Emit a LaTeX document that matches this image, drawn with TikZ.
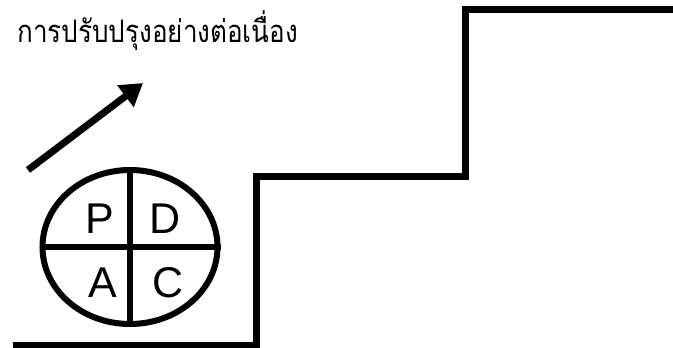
\documentclass[tikz,border=0pt]{standalone}
\usepackage{fontspec}
\setmainfont{Liberation Sans}
\newfontfamily\thaifont[Script=Thai]{Loma}
\usetikzlibrary{shapes.geometric,arrows.meta,positioning}

\begin{document}
\begin{tikzpicture}[x=1pt, y=-1pt, line width=6pt]
            \useasboundingbox (0,0) rectangle (673,348);
            % Title
            \node[anchor=base west, inner sep=0pt, font=\thaifont\fontsize{31}{34}\selectfont, xscale=0.84, transform shape] (title) at (15,42) {การปรับปรุงอย่างต่อเนื่อง};

            % Staircase
            \draw[line width=7pt, line join=miter] (13,345) -- (256,345) -- (256,176) -- (465,176) -- (465,9) -- (673,9);

            % PDCA wheel
            \node[draw, ellipse, minimum width=175pt, minimum height=154pt, inner sep=0pt] (pdca) at (130,247) {};
            \draw (pdca.north) -- (pdca.south);
            \draw (pdca.west) -- (pdca.east);
            \node[font=\fontsize{43}{44}\selectfont, inner sep=0pt] (plan) at (100,219) {P};
            \node[font=\fontsize{43}{44}\selectfont, inner sep=0pt] (do) at (165,219) {D};
            \node[font=\fontsize{43}{44}\selectfont, inner sep=0pt] (act) at (103,283) {A};
            \node[font=\fontsize{43}{44}\selectfont, inner sep=0pt] (check) at (168,283) {C};

            % Arrow
            \coordinate (start) at (28,170);
            \coordinate (tip) at (143,83);
            \draw[line width=7pt, -{Triangle[length=22pt, width=26pt]}] (start) -- (tip);
        \end{tikzpicture}
\end{document}
